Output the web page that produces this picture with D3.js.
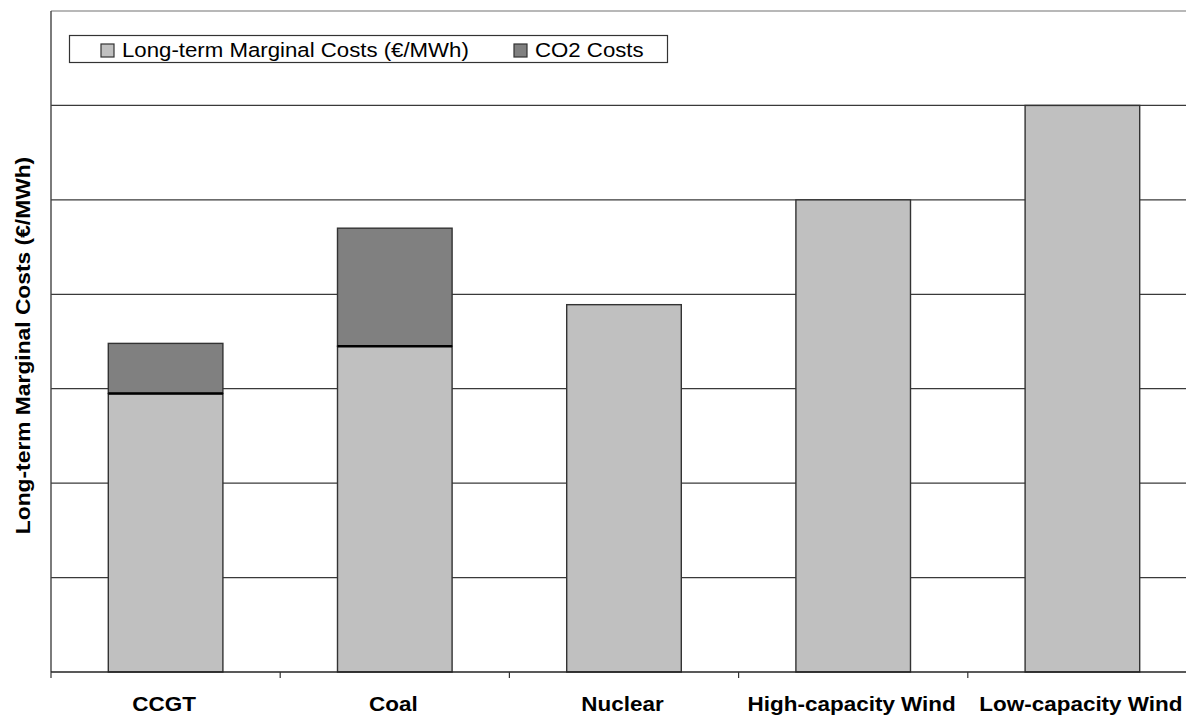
<!DOCTYPE html>
<html>
<head>
<meta charset="utf-8">
<script src="https://cdn.jsdelivr.net/npm/d3@7"></script>
<style>
  html, body { margin: 0; padding: 0; background: #fff; }
  svg { display: block; font-family: Arial, "Liberation Sans", sans-serif; }
</style>
</head>
<body>
<svg id="chart" width="1186" height="717"></svg>
<script>
// Generation technologies and their cost components (€/MWh)
const categories = ["CCGT", "Coal", "Nuclear", "High-capacity Wind", "Low-capacity Wind"];
const marginalCosts = [29.5, 34.5, 38.9, 50, 60];
const co2Costs = [5.3, 12.5, 0, 0, 0];
const gridTicks = [10, 20, 30, 40, 50, 60];
const seriesNames = ["Long-term Marginal Costs (€/MWh)", "CO2 Costs"];
const seriesColors = ["#c0c0c0", "#808080"];
const yTitle = "Long-term Marginal Costs (€/MWh)";

const svg = d3.select("#chart");
const margin = { left: 51, top: 11 };
const plotRight = 1197;
const plotBottom = 672;
const widen = 1.12; // wide sans rendering of the labels

const x = d3.scaleBand()
  .domain(categories)
  .range([margin.left, plotRight])
  .paddingInner(0.5)
  .paddingOuter(0.25);

const y = d3.scaleLinear()
  .domain([0, 70])
  .range([plotBottom, margin.top]);

// top border of plot area
svg.append("line")
  .attr("x1", margin.left).attr("x2", plotRight)
  .attr("y1", y(70)).attr("y2", y(70))
  .attr("stroke", "#a0a0a0").attr("stroke-width", 1.5);

// horizontal gridlines
svg.append("g").selectAll("line")
  .data(gridTicks)
  .join("line")
  .attr("x1", margin.left).attr("x2", plotRight)
  .attr("y1", d => y(d)).attr("y2", d => y(d))
  .attr("stroke", "#3a3a3a").attr("stroke-width", 1.3);

// stacked bars
const stacked = categories.map((c, i) => ({ c, base: marginalCosts[i], co2: co2Costs[i] }));
const bars = svg.append("g");
bars.selectAll("rect.base")
  .data(stacked)
  .join("rect")
  .attr("class", "base")
  .attr("x", d => x(d.c))
  .attr("width", x.bandwidth())
  .attr("y", d => y(d.base))
  .attr("height", d => y(0) - y(d.base))
  .attr("fill", seriesColors[0])
  .attr("stroke", "#333").attr("stroke-width", 1.4);

bars.selectAll("rect.co2")
  .data(stacked.filter(d => d.co2 > 0))
  .join("rect")
  .attr("class", "co2")
  .attr("x", d => x(d.c))
  .attr("width", x.bandwidth())
  .attr("y", d => y(d.base + d.co2))
  .attr("height", d => y(d.base) - y(d.base + d.co2))
  .attr("fill", seriesColors[1])
  .attr("stroke", "#333").attr("stroke-width", 1.4);

// boundary between the two stacked segments
bars.selectAll("line.sep")
  .data(stacked.filter(d => d.co2 > 0))
  .join("line")
  .attr("class", "sep")
  .attr("x1", d => x(d.c)).attr("x2", d => x(d.c) + x.bandwidth())
  .attr("y1", d => y(d.base)).attr("y2", d => y(d.base))
  .attr("stroke", "#000").attr("stroke-width", 2.4);

// y axis line
svg.append("line")
  .attr("x1", margin.left).attr("x2", margin.left)
  .attr("y1", y(70)).attr("y2", plotBottom)
  .attr("stroke", "#444").attr("stroke-width", 1.4);

// x axis line with ticks at category boundaries
svg.append("line")
  .attr("x1", margin.left).attr("x2", plotRight)
  .attr("y1", plotBottom).attr("y2", plotBottom)
  .attr("stroke", "#222").attr("stroke-width", 1.4);

const gap = (x.step() - x.bandwidth()) / 2;
svg.append("g").selectAll("line")
  .data(categories)
  .join("line")
  .attr("x1", d => x(d) - gap).attr("x2", d => x(d) - gap)
  .attr("y1", plotBottom).attr("y2", plotBottom + 6)
  .attr("stroke", "#333").attr("stroke-width", 1.2);

// category labels
svg.append("g").selectAll("text")
  .data(categories)
  .join("text")
  .attr("transform", d => `translate(${x(d) + x.bandwidth() / 2 - 1.5}, 711) scale(1.07, 1)`)
  .attr("text-anchor", "middle")
  .attr("font-weight", "bold")
  .attr("font-size", 21)
  .attr("fill", "#000")
  .text(d => d);

// y axis title
svg.append("text")
  .attr("transform", `translate(30, ${(y(70) + plotBottom) / 2 + 4}) rotate(-90) scale(${widen + 0.02}, 1)`)
  .attr("text-anchor", "middle")
  .attr("font-weight", "bold")
  .attr("font-size", 20)
  .attr("fill", "#000")
  .text(yTitle);

// legend
const legend = svg.append("g");
legend.append("rect")
  .attr("x", 69.5).attr("y", 35.5)
  .attr("width", 598).attr("height", 27)
  .attr("fill", "#fff").attr("stroke", "#333").attr("stroke-width", 1.2);

const legendX = [101, 514];
seriesNames.forEach((name, i) => {
  legend.append("rect")
    .attr("x", legendX[i]).attr("y", 44)
    .attr("width", 13).attr("height", 13)
    .attr("fill", seriesColors[i])
    .attr("stroke", "#333").attr("stroke-width", 1.2);
  legend.append("text")
    .attr("transform", `translate(${legendX[i] + 21}, 57) scale(${widen + 0.02}, 1)`)
    .attr("font-size", 19.5)
    .attr("fill", "#000")
    .text(name);
});
</script>
</body>
</html>
